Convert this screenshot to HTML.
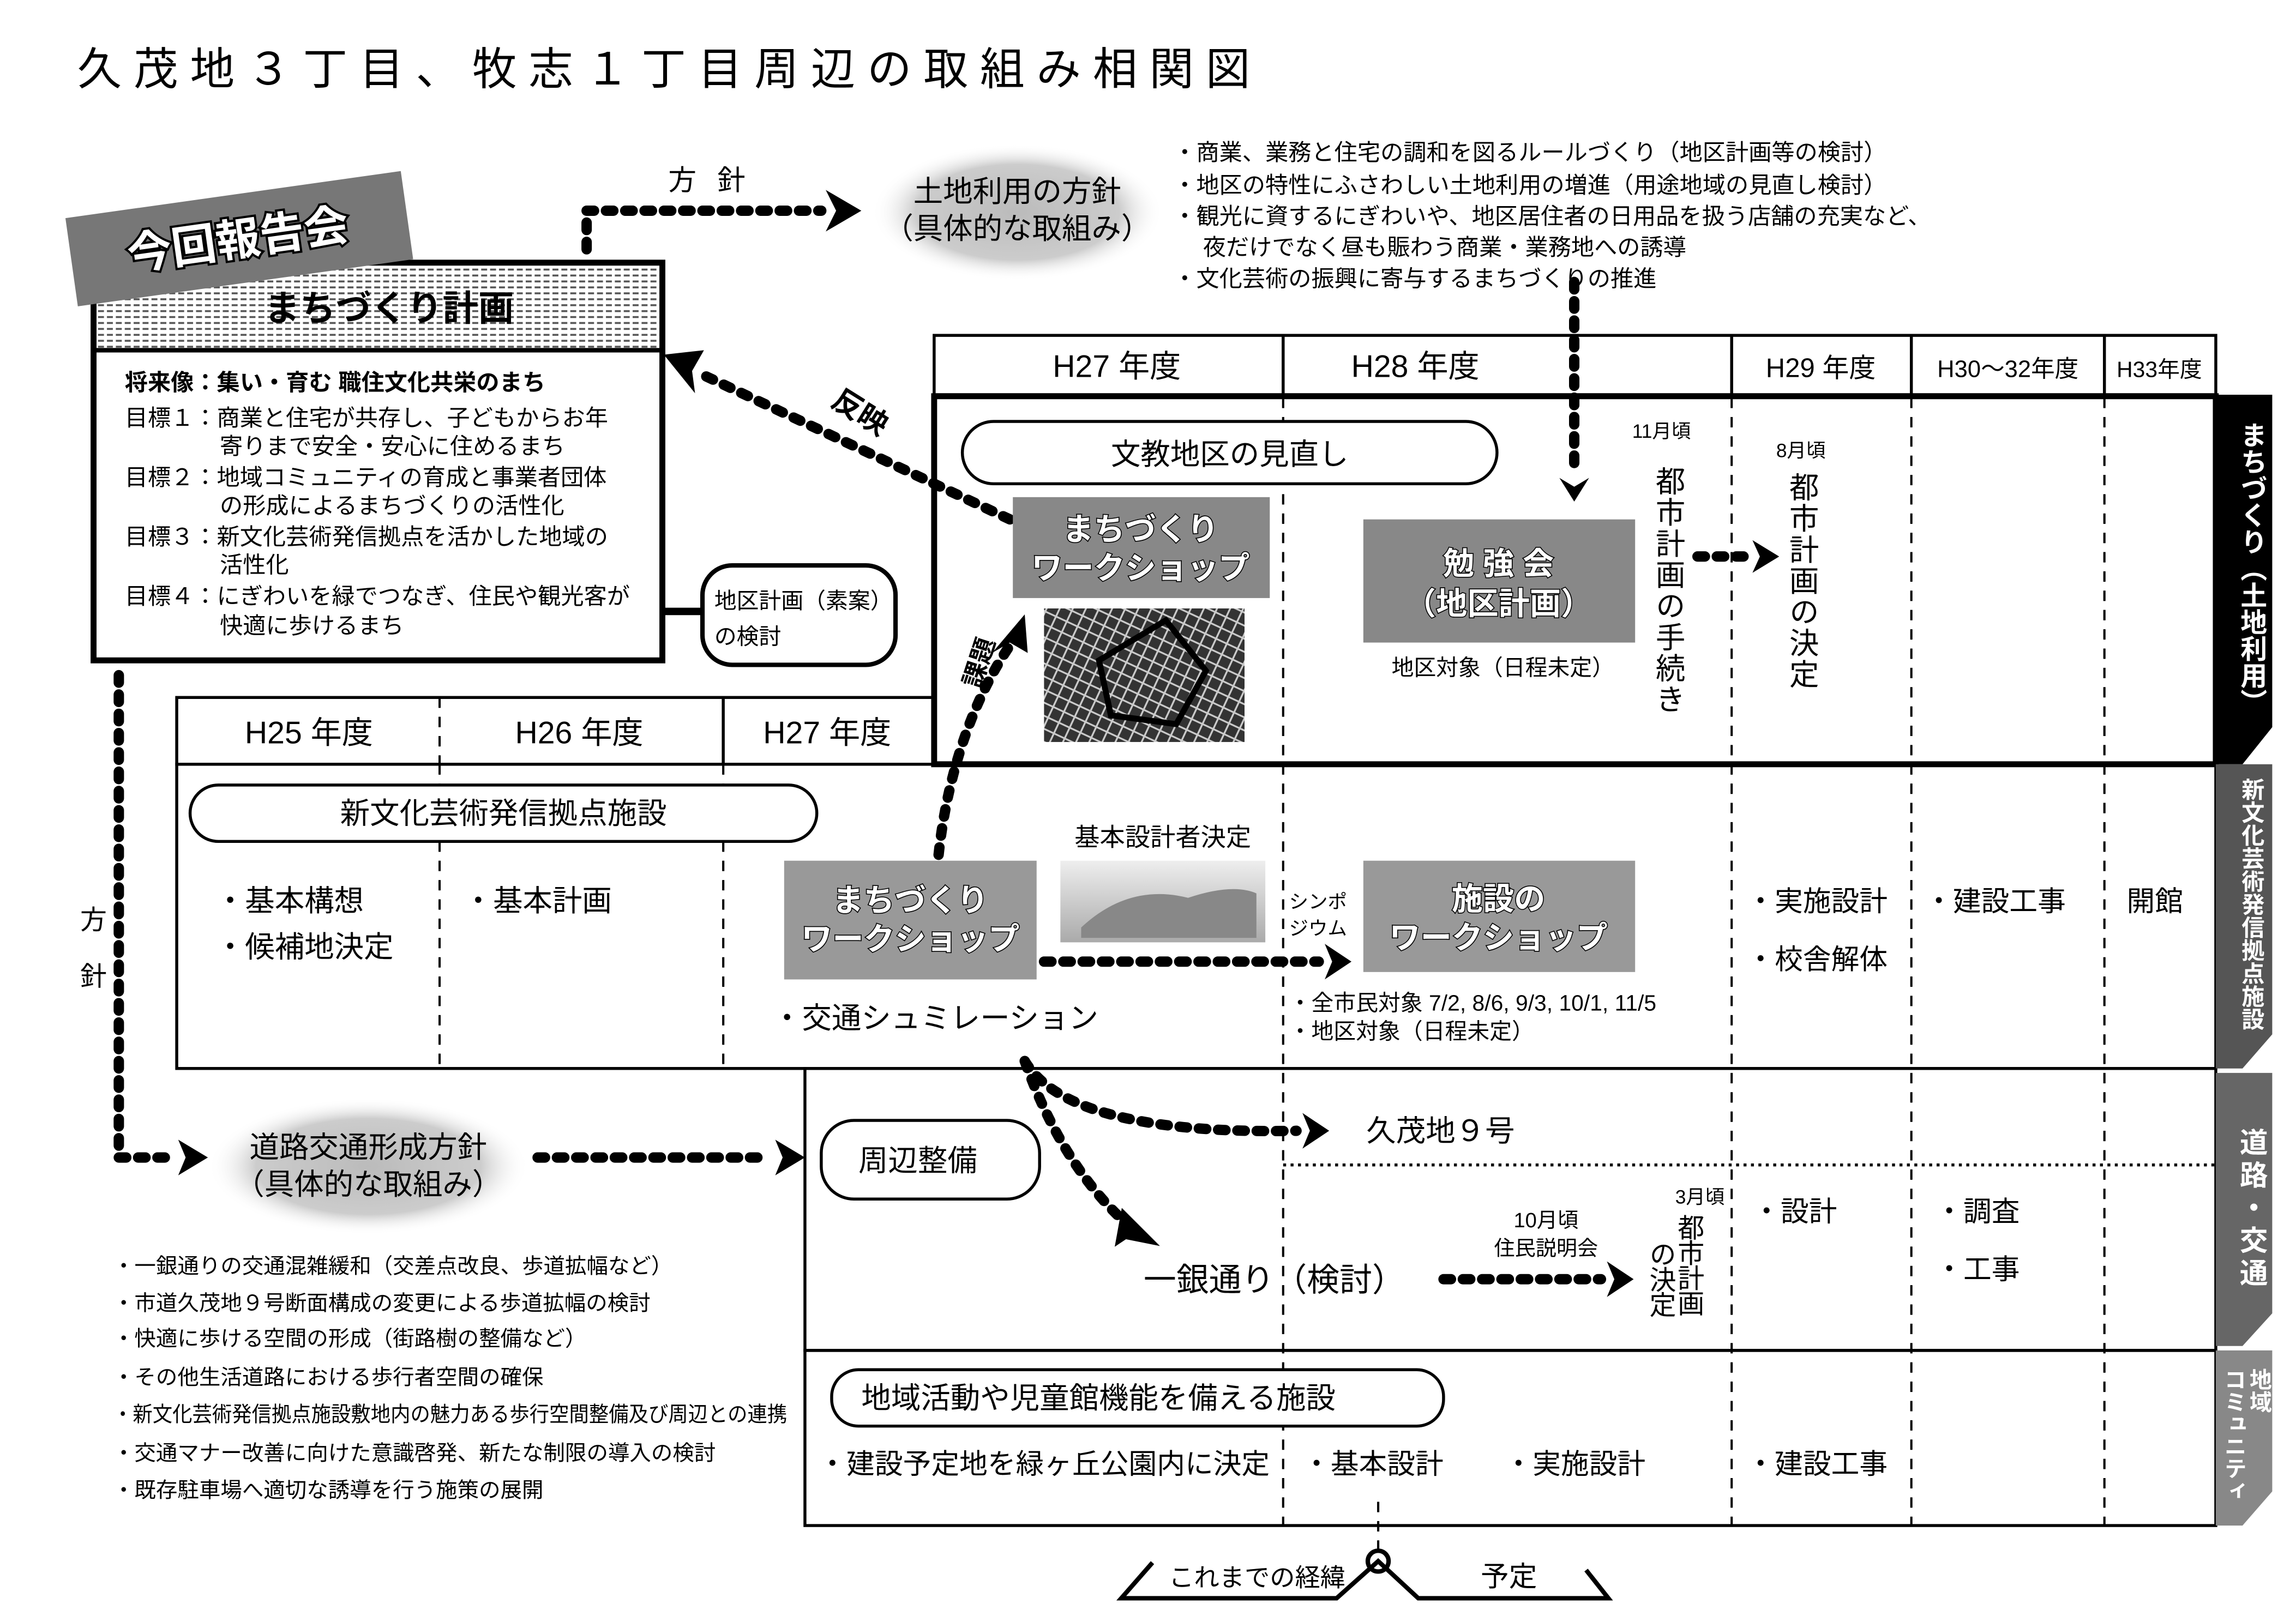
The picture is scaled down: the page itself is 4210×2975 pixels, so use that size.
<!DOCTYPE html>
<html><head><meta charset="utf-8">
<style>
html,body{margin:0;padding:0;background:#fff;}
svg{display:block;}
text{font-family:"Liberation Sans","Noto Sans CJK JP",sans-serif;fill:#000;}
.v{writing-mode:vertical-rl;}
.ws{fill:#fff;stroke:#000;stroke-width:1.2px;paint-order:stroke;font-weight:bold;}
.dot{fill:none;stroke:#000;stroke-width:7;stroke-linecap:round;stroke-dasharray:5 8;}
.dash{stroke:#000;stroke-width:1.5;stroke-dasharray:7 6;}
</style></head>
<body>
<svg width="4210" height="2975" viewBox="0 0 1546 1093" preserveAspectRatio="none" xmlns="http://www.w3.org/2000/svg">
<defs>
<pattern id="hp" width="6" height="4" patternUnits="userSpaceOnUse"><rect width="6" height="4" fill="#fff"/><rect x="0" y="1" width="4" height="1.3" fill="#555"/></pattern>
<radialGradient id="eg"><stop offset="0" stop-color="#bbb"/><stop offset="0.7" stop-color="#ccc"/><stop offset="1" stop-color="#fff" stop-opacity="0"/></radialGradient>
<pattern id="mp" width="8" height="8" patternUnits="userSpaceOnUse" patternTransform="rotate(25)"><rect width="8" height="8" fill="#333"/><path d="M0 4H8M4 0V8" stroke="#ccc" stroke-width="1.2"/></pattern>
<linearGradient id="bg" x1="0" y1="0" x2="0" y2="1"><stop offset="0" stop-color="#eee"/><stop offset="1" stop-color="#aaa"/></linearGradient>
</defs>

<text x="52" y="57" font-size="30" letter-spacing="8">久茂地３丁目、牧志１丁目周辺の取組み相関図</text>

<!-- top policy arrow -->
<path class="dot" d="M395,168 V142 H553"/>
<path d="M556,128 L580,142 L556,156 L563,142Z"/>
<text x="450" y="128" font-size="19" letter-spacing="14">方針</text>
<ellipse cx="685" cy="143" rx="98" ry="46" fill="url(#eg)"/>
<text x="685" y="136" font-size="20" text-anchor="middle">土地利用の方針</text>
<text x="685" y="161" font-size="20" text-anchor="middle">（具体的な取組み）</text>
<g font-size="15.5">
<text x="790" y="108">・商業、業務と住宅の調和を図るルールづくり（地区計画等の検討）</text>
<text x="790" y="130">・地区の特性にふさわしい土地利用の増進（用途地域の見直し検討）</text>
<text x="790" y="151">・観光に資するにぎわいや、地区居住者の日用品を扱う店舗の充実など、</text>
<text x="810" y="172">夜だけでなく昼も賑わう商業・業務地への誘導</text>
<text x="790" y="193">・文化芸術の振興に寄与するまちづくりの推進</text>
</g>

<!-- main plan box -->
<rect x="63" y="177" width="383" height="58" fill="url(#hp)"/>
<text x="262" y="216" font-size="24" font-weight="bold" text-anchor="middle">まちづくり計画</text>
<rect x="63" y="177" width="383" height="268" fill="none" stroke="#000" stroke-width="4"/>
<line x1="63" y1="236" x2="446" y2="236" stroke="#000" stroke-width="3"/>
<g font-size="15.5">
<text x="84" y="263" font-weight="bold">将来像：集い・育む 職住文化共栄のまち</text>
<text x="84" y="287">目標１：商業と住宅が共存し、子どもからお年</text>
<text x="148" y="306">寄りまで安全・安心に住めるまち</text>
<text x="84" y="327">目標２：地域コミュニティの育成と事業者団体</text>
<text x="148" y="346">の形成によるまちづくりの活性化</text>
<text x="84" y="367">目標３：新文化芸術発信拠点を活かした地域の</text>
<text x="148" y="386">活性化</text>
<text x="84" y="407">目標４：にぎわいを緑でつなぎ、住民や観光客が</text>
<text x="148" y="427">快適に歩けるまち</text>
</g>

<!-- tilted label (on top) -->
<g transform="rotate(-8 160 160)">
<rect x="47" y="131" width="228" height="60" fill="#777"/>
<text x="160" y="172" font-size="30" text-anchor="middle" class="ws" style="stroke-width:3px">今回報告会</text>
</g>

<line x1="446" y1="412" x2="473" y2="412" stroke="#000" stroke-width="5"/>
<rect x="473" y="381" width="130" height="67" rx="20" fill="#fff" stroke="#000" stroke-width="3"/>
<text x="481" y="410" font-size="15">地区計画（素案）</text>
<text x="481" y="434" font-size="15">の検討</text>

<!-- 反映 arrow -->
<path class="dot" d="M680,350 L472,252"/>
<path d="M447,239 L474,236 L466,250 L468,265Z"/>
<text x="560" y="282" font-size="20" font-weight="bold" transform="rotate(32 575 275)">反映</text>

<!-- top timeline -->
<rect x="629" y="226" width="863" height="40" fill="#fff" stroke="#000" stroke-width="2"/>
<g stroke="#000" stroke-width="2"><line x1="864" y1="226" x2="864" y2="266"/><line x1="1166" y1="226" x2="1166" y2="266"/><line x1="1287" y1="226" x2="1287" y2="266"/><line x1="1417" y1="226" x2="1417" y2="266"/></g>
<text x="752" y="254" font-size="21" text-anchor="middle">H27 年度</text>
<text x="953" y="254" font-size="21" text-anchor="middle">H28 年度</text>
<text x="1226" y="254" font-size="18" text-anchor="middle">H29 年度</text>
<text x="1352" y="254" font-size="16" text-anchor="middle">H30～32年度</text>
<text x="1454" y="254" font-size="15" text-anchor="middle">H33年度</text>

<!-- lower timeline header -->
<rect x="119" y="470" width="510" height="45" fill="#fff" stroke="#000" stroke-width="2"/>
<line x1="296" y1="470" x2="296" y2="515" class="dash"/>
<line x1="487" y1="470" x2="487" y2="515" stroke="#000" stroke-width="2"/>
<text x="208" y="501" font-size="21" text-anchor="middle">H25 年度</text>
<text x="390" y="501" font-size="21" text-anchor="middle">H26 年度</text>
<text x="557" y="501" font-size="21" text-anchor="middle">H27 年度</text>

<!-- big lower rect -->
<rect x="119" y="515" width="1373" height="205" fill="none" stroke="#000" stroke-width="2"/>
<rect x="542" y="720" width="950" height="190" fill="none" stroke="#000" stroke-width="2"/>
<rect x="542" y="910" width="950" height="118" fill="none" stroke="#000" stroke-width="2"/>
<g class="dash">
<line x1="296" y1="515" x2="296" y2="720"/><line x1="487" y1="515" x2="487" y2="720"/>
<line x1="864" y1="268" x2="864" y2="1028"/><line x1="1166" y1="268" x2="1166" y2="1028"/>
<line x1="1287" y1="268" x2="1287" y2="1028"/><line x1="1417" y1="268" x2="1417" y2="1028"/>
</g>
<line x1="864" y1="785" x2="1492" y2="785" stroke="#000" stroke-width="2" stroke-dasharray="2 3"/>

<!-- top thick box -->
<rect x="629" y="267" width="863" height="248" fill="none" stroke="#000" stroke-width="4"/>

<!-- right labels -->
<polygon points="1492,266 1530,266 1530,490 1510,515 1492,515" fill="#000"/>
<text x="1516" y="284" font-size="18" font-weight="bold" class="v" style="fill:#fff">まちづくり（土地利用）</text>
<polygon points="1492,515 1530,515 1530,697 1510,720 1492,720" fill="#555"/>
<text x="1516" y="524" font-size="15.5" font-weight="bold" class="v" style="fill:#fff">新文化芸術発信拠点施設</text>
<polygon points="1492,723 1530,723 1530,885 1510,907 1492,907" fill="#666"/>
<text x="1516" y="760" font-size="19" font-weight="bold" class="v" letter-spacing="3" style="fill:#fff">道路・交通</text>
<polygon points="1492,910 1530,910 1530,1005 1510,1028 1492,1028" fill="#888"/>
<text x="1521" y="922" font-size="15" font-weight="bold" class="v" style="fill:#fff">地域</text>
<text x="1504" y="922" font-size="15" font-weight="bold" class="v" style="fill:#fff">コミュニティ</text>

<!-- top box contents -->
<rect x="648" y="284" width="360" height="42" rx="21" fill="#fff" stroke="#000" stroke-width="2"/>
<text x="828" y="313" font-size="20" text-anchor="middle">文教地区の見直し</text>
<rect x="682" y="335" width="173" height="68" fill="#888"/>
<text x="768" y="364" font-size="21" text-anchor="middle" class="ws">まちづくり</text>
<text x="768" y="390" font-size="21" text-anchor="middle" class="ws">ワークショップ</text>
<rect x="703" y="410" width="135" height="90" fill="url(#mp)"/>
<path d="M740,445 L785,418 L812,452 L792,488 L748,482Z" fill="none" stroke="#000" stroke-width="4"/>
<rect x="918" y="350" width="183" height="83" fill="#888"/>
<text x="1009" y="387" font-size="21" text-anchor="middle" class="ws">勉 強 会</text>
<text x="1009" y="414" font-size="21" text-anchor="middle" class="ws">（地区計画）</text>
<text x="1012" y="455" font-size="15" text-anchor="middle">地区対象（日程未定）</text>

<path class="dot" d="M1060,190 V320"/>
<path d="M1050,322 L1060,338 L1070,322 L1060,328Z"/>
<text x="1099" y="295" font-size="13">11月頃</text>
<text x="1123" y="314" font-size="20" class="v" letter-spacing="1">都市計画の手続き</text>
<text x="1196" y="308" font-size="13">8月頃</text>
<text x="1213" y="318" font-size="20" class="v" letter-spacing="1">都市計画の決定</text>
<path class="dot" d="M1143,375 H1176"/>
<path d="M1180,364 L1198,375 L1180,386 L1185,375Z"/>

<!-- 課題 arrow -->
<path class="dot" d="M632,576 C638,520 656,470 680,435"/>
<path d="M690,414 L692,440 L680,433 L668,440Z"/>
<text x="652" y="470" font-size="17" font-weight="bold" transform="rotate(-72 652 462)">課題</text>

<!-- culture section -->
<rect x="128" y="529" width="422" height="38" rx="19" fill="#fff" stroke="#000" stroke-width="2"/>
<text x="339" y="555" font-size="20" text-anchor="middle">新文化芸術発信拠点施設</text>
<g font-size="20">
<text x="145" y="614">・基本構想</text>
<text x="145" y="645">・候補地決定</text>
<text x="312" y="614">・基本計画</text>
<text x="520" y="693">・交通シュミレーション</text>
</g>
<rect x="528" y="580" width="170" height="80" fill="#999"/>
<text x="613" y="614" font-size="21" text-anchor="middle" class="ws">まちづくり</text>
<text x="613" y="640" font-size="21" text-anchor="middle" class="ws">ワークショップ</text>
<text x="783" y="570" font-size="17" text-anchor="middle">基本設計者決定</text>
<rect x="714" y="580" width="138" height="55" fill="url(#bg)"/>
<path d="M728,625 Q760,595 800,605 Q830,595 846,602 V632 H728Z" fill="#888"/>
<text x="868" y="612" font-size="13">シンポ</text>
<text x="868" y="630" font-size="13">ジウム</text>
<rect x="918" y="580" width="183" height="75" fill="#999"/>
<text x="1009" y="613" font-size="21" text-anchor="middle" class="ws">施設の</text>
<text x="1009" y="639" font-size="21" text-anchor="middle" class="ws">ワークショップ</text>
<path class="dot" d="M703,648 H888"/>
<path d="M892,636 L910,648 L892,660 L897,648Z"/>
<text x="868" y="681" font-size="15">・全市民対象 7/2, 8/6, 9/3, 10/1, 11/5</text>
<text x="868" y="700" font-size="15">・地区対象（日程未定）</text>
<g font-size="19">
<text x="1176" y="614">・実施設計</text>
<text x="1176" y="653">・校舎解体</text>
<text x="1296" y="614">・建設工事</text>
<text x="1432" y="614">開館</text>
</g>

<!-- road section -->
<path class="dot" d="M690,715 Q720,765 873,762"/>
<path d="M877,750 L895,762 L877,774 L882,762Z"/>
<text x="920" y="769" font-size="20">久茂地９号</text>
<path class="dot" d="M690,715 Q715,785 758,824"/>
<path d="M756,816 L778,838 L758,834 L752,838Z" stroke="#000" stroke-width="2"/>
<rect x="553" y="755" width="147" height="53" rx="22" fill="#fff" stroke="#000" stroke-width="2"/>
<text x="578" y="789" font-size="20">周辺整備</text>
<text x="770" y="870" font-size="22">一銀通り（検討）</text>
<path class="dot" d="M972,862 H1078"/>
<path d="M1082,850 L1100,862 L1082,874 L1087,862Z"/>
<text x="1041" y="827" font-size="14" text-anchor="middle">10月頃</text>
<text x="1041" y="846" font-size="14" text-anchor="middle">住民説明会</text>
<text x="1128" y="811" font-size="13">3月頃</text>
<text x="1137" y="818" font-size="18" class="v" letter-spacing="-1">都市計画</text>
<text x="1118" y="836" font-size="18" class="v" letter-spacing="-1">の決定</text>
<g font-size="19">
<text x="1180" y="823">・設計</text>
<text x="1303" y="823">・調査</text>
<text x="1303" y="862">・工事</text>
</g>

<!-- community -->
<rect x="560" y="923" width="412" height="38" rx="18" fill="#fff" stroke="#000" stroke-width="2"/>
<text x="580" y="949" font-size="20">地域活動や児童館機能を備える施設</text>
<g font-size="19">
<text x="551" y="993">・建設予定地を緑ヶ丘公園内に決定</text>
<text x="877" y="993">・基本設計</text>
<text x="1013" y="993">・実施設計</text>
<text x="1176" y="993">・建設工事</text>
</g>

<!-- bottom marker -->
<line x1="928" y1="1012" x2="928" y2="1044" class="dash"/>
<circle cx="928" cy="1052" r="7" fill="#fff" stroke="#000" stroke-width="3"/>
<path d="M776,1053 L755,1077 L900,1077 L928,1052 L955,1077 L1083,1077 L1068,1058" fill="none" stroke="#000" stroke-width="3"/>
<text x="787" y="1069" font-size="17">これまでの経緯</text>
<text x="997" y="1069" font-size="19">予定</text>

<!-- left policy -->
<path class="dot" d="M80,455 V780 H116"/>
<path d="M120,768 L140,780 L120,792 L125,780Z"/>
<text x="63" y="626" font-size="18" text-anchor="middle">方</text>
<text x="63" y="664" font-size="18" text-anchor="middle">針</text>
<ellipse cx="248" cy="786" rx="108" ry="46" fill="url(#eg)"/>
<text x="248" y="780" font-size="20" text-anchor="middle">道路交通形成方針</text>
<text x="248" y="805" font-size="20" text-anchor="middle">（具体的な取組み）</text>
<path class="dot" d="M362,780 H518"/>
<path d="M522,768 L542,780 L522,792 L527,780Z"/>
<g font-size="14.5">
<text x="76" y="858">・一銀通りの交通混雑緩和（交差点改良、歩道拡幅など）</text>
<text x="76" y="883">・市道久茂地９号断面構成の変更による歩道拡幅の検討</text>
<text x="76" y="907">・快適に歩ける空間の形成（街路樹の整備など）</text>
<text x="76" y="933">・その他生活道路における歩行者空間の確保</text>
<text x="76" y="958" textLength="454" lengthAdjust="spacingAndGlyphs">・新文化芸術発信拠点施設敷地内の魅力ある歩行空間整備及び周辺との連携</text>
<text x="76" y="984">・交通マナー改善に向けた意識啓発、新たな制限の導入の検討</text>
<text x="76" y="1009">・既存駐車場へ適切な誘導を行う施策の展開</text>
</g>
</svg>
</body></html>
